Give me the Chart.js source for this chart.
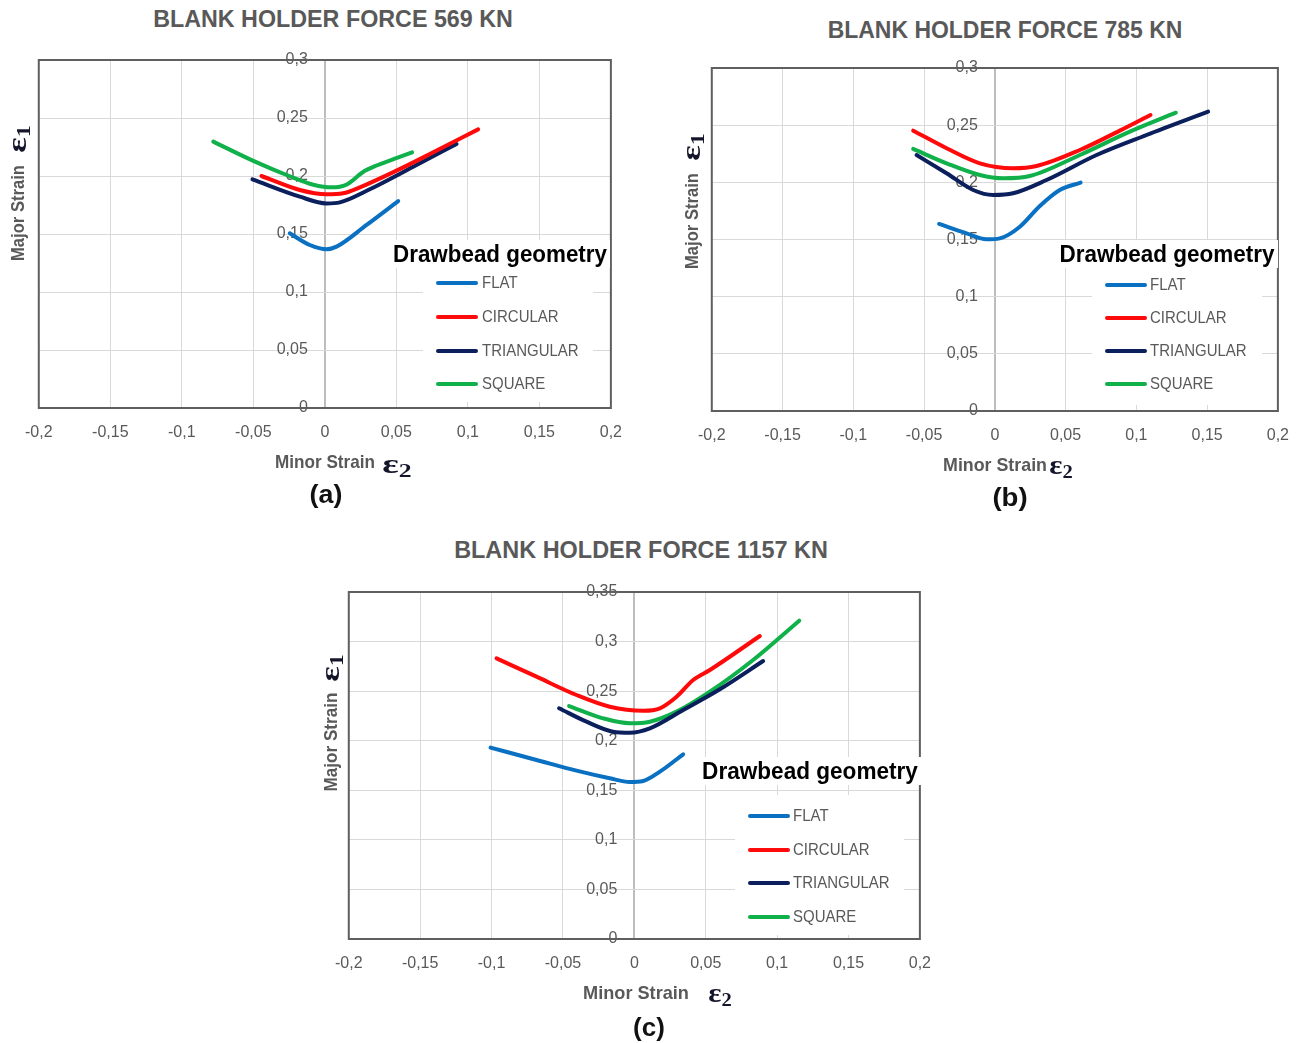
<!DOCTYPE html>
<html>
<head>
<meta charset="utf-8">
<script src="https://cdn.jsdelivr.net/npm/chart.js@4.4.1/dist/chart.umd.min.js"></script>
<style>
  html,body{margin:0;padding:0;background:#fff;}
  body{width:1300px;height:1043px;position:relative;overflow:hidden;}
  .txt{position:absolute;white-space:nowrap;line-height:1;}
  .ptitle{font:bold 24px 'Liberation Sans',Arial,sans-serif;color:#595959;}
  .atitle{font:bold 18.5px 'Liberation Sans',Arial,sans-serif;color:#595959;}
  .eps{font:bold 27px 'Liberation Serif','DejaVu Serif',serif;color:#14142a;}
  .eps sub{font-size:18px;vertical-align:-4px;}
  .plabel{font:bold 26px 'Liberation Sans',Arial,sans-serif;color:#111;}
  .ltitle{font:bold 23px 'Liberation Sans',Arial,sans-serif;color:#000;}
  .litem{font:17px 'Liberation Sans Narrow','Liberation Sans',sans-serif;color:#595959;transform-origin:0 50%;}
  .wbox{position:absolute;background:#fff;}
  .lline{position:absolute;height:4px;border-radius:2px;}
  canvas{position:absolute;}
</style>
</head>
<body>
<script>
// ================= DATA =================
const seriesNames = ['FLAT', 'CIRCULAR', 'TRIANGULAR', 'SQUARE'];
const panelTitles = ['BLANK HOLDER FORCE 569 KN', 'BLANK HOLDER FORCE 785 KN', 'BLANK HOLDER FORCE 1157 KN'];
const panelLabels = ['(a)', '(b)', '(c)'];
const xAxisTitle = 'Minor Strain';
const yAxisTitle = 'Major Strain';
const legendTitle = 'Drawbead geometry';
const xMin = -0.2, xMax = 0.2, tickStep = 0.05;
const yMaxA = 0.3, yMaxB = 0.3, yMaxC = 0.35;

// (a) Blank holder force 569 kN
const aFlatX = [-0.0245, -0.0105, 0.0012, 0.0082, 0.0292, 0.0513];
const aFlatY = [0.1506, 0.1405, 0.1368, 0.1391, 0.1578, 0.1784];
const aCircX = [-0.0443, -0.0175, 0.0012, 0.0128, 0.0245, 0.0501, 0.0758, 0.1072];
const aCircY = [0.2000, 0.1879, 0.1842, 0.1851, 0.1902, 0.2046, 0.2204, 0.2402];
const aTriX  = [-0.0506, -0.0175, 0.0012, 0.0105, 0.0303, 0.0618, 0.0921];
const aTriY  = [0.1971, 0.1822, 0.1764, 0.1773, 0.1879, 0.2080, 0.2276];
const aSqX   = [-0.078, -0.050, -0.025, -0.008, 0.005, 0.015, 0.027, 0.035, 0.048, 0.061];
const aSqY   = [0.2296, 0.2130, 0.2000, 0.1925, 0.1902, 0.1925, 0.2037, 0.2085, 0.2145, 0.2204];

// (b) Blank holder force 785 kN
const bFlatX = [-0.0394, -0.0200, -0.0059, 0.0035, 0.0177, 0.0318, 0.0459, 0.0606];
const bFlatY = [0.1636, 0.1554, 0.1502, 0.1510, 0.1612, 0.1793, 0.1933, 0.1997];
const bCircX = [-0.0577, -0.0341, -0.0106, 0.0129, 0.0295, 0.0601, 0.0883, 0.1100];
const bCircY = [0.2452, 0.2298, 0.2166, 0.2123, 0.2143, 0.2283, 0.2452, 0.2589];
const bTriX  = [-0.0553, -0.0341, -0.0153, -0.0012, 0.0129, 0.0365, 0.0719, 0.1072, 0.1507];
const bTriY  = [0.2239, 0.2079, 0.1933, 0.1889, 0.1904, 0.2020, 0.2239, 0.2414, 0.2618];
const bSqX   = [-0.0577, -0.0341, -0.0106, 0.0059, 0.0247, 0.0601, 0.0954, 0.1279];
const bSqY   = [0.2292, 0.2166, 0.2064, 0.2035, 0.2055, 0.2239, 0.2443, 0.2609];

// (c) Blank holder force 1157 kN
const cFlatX = [-0.1007, -0.0685, -0.0405, -0.0172, -0.0032, 0.0062, 0.0179, 0.0342];
const cFlatY = [0.1930, 0.1806, 0.1698, 0.1621, 0.1584, 0.1594, 0.1688, 0.1863];
const cCircX = [-0.0965, -0.0685, -0.0405, -0.0172, 0.0062, 0.0179, 0.0296, 0.0412, 0.0529, 0.0879];
const cCircY = [0.2831, 0.2646, 0.2461, 0.2343, 0.2303, 0.2327, 0.2444, 0.2613, 0.2713, 0.3056];
const cTriX  = [-0.0527, -0.0335, -0.0149, -0.0032, 0.0109, 0.0342, 0.0599, 0.0902];
const cTriY  = [0.2327, 0.2192, 0.2091, 0.2081, 0.2125, 0.2310, 0.2519, 0.2804];
const cSqX   = [-0.0457, -0.0219, -0.0032, 0.0109, 0.0296, 0.0529, 0.0832, 0.1155];
const cSqY   = [0.2350, 0.2226, 0.2176, 0.2192, 0.2293, 0.2494, 0.2814, 0.3211];

// ================= STYLE / LAYOUT =================
const seriesColors = ['#0a70c2', '#ff0a0a', '#0b1f5c', '#10b04a'];
const gridColor = '#d9d9d9';
const zeroLineColor = '#bdbdbd';
const tickColor = '#595959';
const tickFont = { family: 'Liberation Sans', size: 16 };
const yLabelGap = 17;   // px between y tick labels and the x=0 line

const layouts = [
  { plot:[39,60,611,408], title:[333,19,360], xTitle:[325,462,100], eps2:[397,465,30],
    yTitle:[18,213,96], eps1:[18,139,28], label:[326,494,33],
    legTitle:[500,254,214], legBox:[423,268,593,402], legLine:[436,478], legText:482, legY:[283,317,351,384] },
  { plot:[712,68,1278,411], title:[1005,30,355], xTitle:[995,465,104], eps2:[1061,466,24],
    yTitle:[692,221,96], eps1:[692,147,28], label:[1010,497,35],
    legTitle:[1167,254,215], legBox:[1092,268,1262,405], legLine:[1105,1147], legText:1150, legY:[285,318,351,384] },
  { plot:[349,592,920,939], title:[641,550,374], xTitle:[636,993,106], eps2:[720,994,24],
    yTitle:[331,742,99], eps1:[331,668,28], label:[649,1027,32],
    legTitle:[810,771,216], legBox:[735,795,904,935], legLine:[748,790], legText:793, legY:[816,850,883,917] }
];

const fmt = v => { const r = Math.round(v * 100) / 100; return r === 0 ? '0' : String(r).replace('.', ','); };
const toPts = (xs, ys) => xs.map((x, i) => ({ x: x, y: ys[i] }));

const framePlugin = {
  id: 'frame',
  beforeDatasetsDraw(chart) {
    const { ctx, chartArea: a } = chart;
    ctx.save();
    ctx.strokeStyle = '#5f5f5f';
    ctx.lineWidth = 2;
    ctx.strokeRect(a.left, a.top, a.right - a.left, a.bottom - a.top);
    ctx.restore();
  }
};

function addText(html, cls, cx, cy, w, rotate) {
  const el = document.createElement('div');
  el.className = 'txt ' + cls;
  el.innerHTML = html;
  document.body.appendChild(el);
  const nat = el.offsetWidth;
  const sx = w ? w / nat : 1;
  el.style.left = cx + 'px';
  el.style.top = cy + 'px';
  el.style.transform = 'translate(-50%,-50%)' + (rotate ? ' rotate(-90deg)' : '') + ' scaleX(' + sx + ')';
  return el;
}

function buildConfig(yMax, xsArr, ysArr, yAxisAt) {
  const datasets = seriesNames.map((name, s) => ({
    label: name,
    data: toPts(xsArr[s], ysArr[s]),
    showLine: true,
    borderColor: seriesColors[s],
    backgroundColor: seriesColors[s],
    borderWidth: 4,
    pointRadius: 0,
    cubicInterpolationMode: 'monotone',
    borderCapStyle: 'round',
    borderJoinStyle: 'round',
    fill: false
  }));
  return {
    type: 'scatter',
    data: { datasets: datasets },
    options: {
      responsive: false,
      maintainAspectRatio: false,
      animation: false,
      devicePixelRatio: 1,
      layout: { padding: { left: 26, right: 26, top: 14, bottom: 0 } },
      plugins: { legend: { display: false }, tooltip: { enabled: false } },
      scales: {
        x: {
          type: 'linear', min: xMin, max: xMax,
          ticks: { stepSize: tickStep, callback: v => fmt(v), color: tickColor,
                   font: tickFont, padding: 15, maxRotation: 0, autoSkip: false },
          grid: { color: c => (c.tick && Math.abs(c.tick.value) < 1e-9) ? zeroLineColor : gridColor,
                  lineWidth: c => (c.tick && Math.abs(c.tick.value) < 1e-9) ? 2 : 1, drawTicks: false },
          border: { display: false },
          afterFit: s => { s.height = 44; }
        },
        y: {
          type: 'linear', min: 0, max: yMax, position: { x: yAxisAt },
          ticks: { stepSize: tickStep, callback: v => fmt(v), color: tickColor, font: tickFont, padding: 0 },
          grid: { color: gridColor, lineWidth: 1, drawTicks: false },
          border: { display: false }
        }
      }
    },
    plugins: [framePlugin]
  };
}

function makePanel(idx, yMax, xsArr, ysArr) {
  const L = layouts[idx];
  const [pl, pt, pr, pb] = L.plot;
  const pxPerUnit = (pr - pl) / (xMax - xMin);
  const yAxisAt = -yLabelGap / pxPerUnit;   // labels end this far left of the zero line

  // first pass: measure the chart-area insets
  const cv = document.createElement('canvas');
  let W = pr - pl + 52, H = pb - pt + 58;
  cv.width = W; cv.height = H;
  cv.style.width = W + 'px'; cv.style.height = H + 'px';
  document.body.appendChild(cv);
  let chart = new Chart(cv, buildConfig(yMax, xsArr, ysArr, yAxisAt));
  const a = chart.chartArea;
  const insL = a.left, insT = a.top, insR = W - a.right, insB = H - a.bottom;
  chart.destroy();

  // second pass: exact size so the plot area lands on the target box
  W = Math.round(insL + (pr - pl) + insR);
  H = Math.round(insT + (pb - pt) + insB);
  cv.width = W; cv.height = H;
  cv.style.width = W + 'px'; cv.style.height = H + 'px';
  cv.style.left = (pl - insL) + 'px';
  cv.style.top = (pt - insT) + 'px';
  chart = new Chart(cv, buildConfig(yMax, xsArr, ysArr, yAxisAt));
  const b = chart.chartArea;
  cv.style.left = (pl - b.left) + 'px';
  cv.style.top = (pt - b.top) + 'px';

  // texts
  addText(panelTitles[idx], 'ptitle', L.title[0], L.title[1], L.title[2]);
  addText(xAxisTitle, 'atitle', L.xTitle[0], L.xTitle[1], L.xTitle[2]);
  addText('&epsilon;<sub>2</sub>', 'eps', L.eps2[0], L.eps2[1], L.eps2[2]);
  addText(yAxisTitle, 'atitle', L.yTitle[0], L.yTitle[1], L.yTitle[2], true);
  addText('&epsilon;<sub>1</sub>', 'eps', L.eps1[0], L.eps1[1], L.eps1[2], true);
  addText(panelLabels[idx], 'plabel', L.label[0], L.label[1], L.label[2]);

  // legend
  const tb = document.createElement('div');
  tb.className = 'wbox';
  tb.style.cssText = 'left:' + (L.legTitle[0] - L.legTitle[2] / 2 - 3) + 'px;top:' + (L.legTitle[1] - 14) + 'px;width:' + (L.legTitle[2] + 6) + 'px;height:28px;';
  document.body.appendChild(tb);
  const bx = document.createElement('div');
  bx.className = 'wbox';
  bx.style.cssText = 'left:' + L.legBox[0] + 'px;top:' + L.legBox[1] + 'px;width:' + (L.legBox[2] - L.legBox[0]) + 'px;height:' + (L.legBox[3] - L.legBox[1]) + 'px;';
  document.body.appendChild(bx);
  addText(legendTitle, 'ltitle', L.legTitle[0], L.legTitle[1], L.legTitle[2]);

  const probe = document.createElement('div');
  probe.className = 'txt litem';
  probe.textContent = 'TRIANGULAR';
  document.body.appendChild(probe);
  const sc = 97 / probe.offsetWidth;
  probe.remove();

  seriesNames.forEach((name, s) => {
    const ln = document.createElement('div');
    ln.className = 'lline';
    ln.style.cssText = 'left:' + L.legLine[0] + 'px;top:' + (L.legY[s] - 2) + 'px;width:' + (L.legLine[1] - L.legLine[0]) + 'px;background:' + seriesColors[s] + ';';
    document.body.appendChild(ln);
    const t = document.createElement('div');
    t.className = 'txt litem';
    t.textContent = name;
    document.body.appendChild(t);
    const h = t.offsetHeight;
    t.style.left = L.legText + 'px';
    t.style.top = (L.legY[s] - h / 2) + 'px';
    t.style.transform = 'scaleX(' + sc + ')';
  });
}

makePanel(0, yMaxA, [aFlatX, aCircX, aTriX, aSqX], [aFlatY, aCircY, aTriY, aSqY]);
makePanel(1, yMaxB, [bFlatX, bCircX, bTriX, bSqX], [bFlatY, bCircY, bTriY, bSqY]);
makePanel(2, yMaxC, [cFlatX, cCircX, cTriX, cSqX], [cFlatY, cCircY, cTriY, cSqY]);
</script>
</body>
</html>
